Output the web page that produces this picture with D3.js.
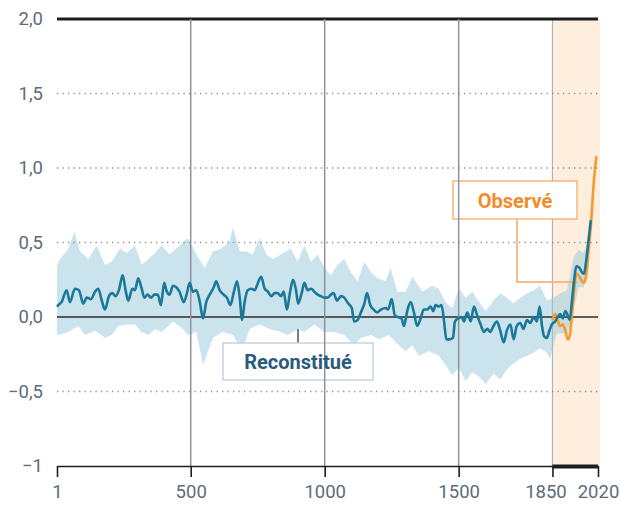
<!DOCTYPE html>
<html><head><meta charset="utf-8">
<script src="https://cdn.jsdelivr.net/npm/d3@7/dist/d3.min.js"></script>
<style>
html,body{margin:0;padding:0;background:#fff;}
svg{display:block;font-family:Roboto,"Open Sans",sans-serif;}
</style></head>
<body>
<svg id="chart" width="620" height="505"></svg>
<script>
// ---- data ----
const reconYears = [1,6,18,37,49,68,83,99,112,128,143,155,168,180,195,207,220,232,246,257,267,282,292,304,317,327,339,352,364,377,389,401,409,421,434,446,458,474,486,496,508,521,533,546,558,571,586,595,608,623,635,648,660,673,683,692,701,713,726,739,751,763,776,788,801,813,824,837,847,859,871,882,893,901,914,924,936,949,961,974,986,998,1011,1023,1033,1046,1061,1073,1088,1101,1110,1123,1135,1148,1158,1170,1183,1195,1210,1228,1237,1250,1262,1274,1287,1296,1308,1321,1333,1345,1358,1370,1383,1395,1405,1414,1426,1436,1445,1454,1466,1479,1486,1499,1511,1520,1532,1545,1557,1569,1582,1594,1607,1618,1630,1643,1655,1668,1680,1693,1705,1717,1730,1742,1755,1767,1780,1792,1802,1811,1819,1829,1839,1848,1860,1869,1879,1889,1898,1907,1914,1923,1931,1939,1951,1960,1968,1976,1985,1993];
const reconValues = [0.07,0.08,0.10,0.18,0.10,0.19,0.18,0.09,0.13,0.12,0.17,0.19,0.11,0.05,0.14,0.16,0.14,0.18,0.28,0.18,0.11,0.19,0.18,0.26,0.19,0.13,0.15,0.13,0.15,0.15,0.08,0.23,0.18,0.15,0.21,0.20,0.17,0.10,0.16,0.23,0.17,0.18,0.11,-0.01,0.10,0.15,0.20,0.24,0.18,0.15,0.13,0.08,0.16,0.24,0.13,-0.02,0.10,0.18,0.19,0.18,0.23,0.27,0.19,0.17,0.14,0.16,0.16,0.14,0.17,0.05,0.17,0.25,0.18,0.09,0.16,0.23,0.18,0.19,0.17,0.15,0.14,0.13,0.13,0.15,0.16,0.11,0.14,0.13,0.09,0.06,-0.03,-0.02,0.03,0.09,0.16,0.08,0.05,0.03,0.05,0.06,0.05,0.12,0.01,0.00,-0.01,-0.06,0.04,0.10,0.03,-0.06,-0.01,0.05,0.05,0.07,0.04,0.08,0.07,0.08,-0.02,-0.15,-0.15,-0.14,-0.03,-0.01,0.00,-0.03,0.03,-0.03,0.07,0.01,-0.05,-0.10,-0.08,-0.10,-0.06,-0.03,-0.09,-0.17,-0.09,-0.05,-0.15,-0.06,-0.04,-0.08,-0.02,-0.04,0.00,-0.03,0.07,-0.06,-0.13,-0.14,-0.09,-0.05,-0.03,0.00,0.02,-0.01,0.04,0.01,-0.02,0.11,0.25,0.34,0.33,0.30,0.29,0.38,0.52,0.65];

const bandUpperYears = [1,6,43,66,87,118,149,180,205,236,261,292,317,342,367,392,421,459,490,521,552,583,614,645,658,683,707,732,757,782,807,837,874,899,924,949,974,998,1023,1048,1073,1098,1123,1148,1173,1198,1228,1246,1271,1302,1327,1364,1401,1426,1451,1476,1501,1526,1551,1576,1601,1630,1655,1680,1705,1730,1755,1780,1804,1829,1854,1879,1904,1929,1948,1966,1979,1993];
const bandUpper = [0.33,0.37,0.46,0.57,0.44,0.39,0.48,0.35,0.37,0.46,0.43,0.48,0.35,0.39,0.43,0.48,0.42,0.48,0.53,0.42,0.33,0.44,0.46,0.51,0.60,0.44,0.44,0.42,0.53,0.42,0.39,0.42,0.46,0.37,0.48,0.37,0.42,0.33,0.28,0.35,0.39,0.30,0.24,0.37,0.30,0.26,0.24,0.33,0.17,0.17,0.27,0.17,0.21,0.19,0.10,0.06,0.19,0.13,0.17,0.10,0.04,0.11,0.16,0.13,0.09,0.13,0.16,0.18,0.21,0.11,0.13,0.16,0.18,0.40,0.45,0.43,0.49,0.66];
const bandLowerYears = [1,6,43,80,105,143,180,205,230,261,292,317,342,367,392,434,471,490,521,546,583,620,658,692,720,757,795,837,862,899,924,961,998,1036,1073,1110,1135,1173,1203,1240,1277,1302,1327,1352,1389,1426,1451,1476,1501,1526,1551,1576,1601,1630,1655,1680,1705,1730,1755,1780,1804,1829,1841,1866,1904,1923,1935,1948,1966,1985,1993];
const bandLower = [-0.12,-0.12,-0.10,-0.06,-0.12,-0.09,-0.14,-0.12,-0.06,-0.05,-0.05,-0.10,-0.12,-0.08,-0.10,-0.03,-0.08,-0.12,-0.10,-0.32,-0.14,-0.10,-0.12,-0.23,-0.08,-0.05,-0.08,-0.10,-0.12,-0.08,-0.10,-0.05,-0.10,-0.10,-0.12,-0.19,-0.14,-0.12,-0.15,-0.12,-0.19,-0.23,-0.19,-0.26,-0.23,-0.26,-0.32,-0.39,-0.34,-0.43,-0.37,-0.40,-0.45,-0.38,-0.42,-0.35,-0.31,-0.28,-0.26,-0.24,-0.21,-0.24,-0.28,-0.11,-0.11,-0.02,0.10,0.20,0.20,0.34,0.60];

const obsYears = [1850,1860,1869,1879,1889,1898,1907,1914,1923,1931,1939,1951,1960,1968,1976,1985,1994,2004,2014];
const obsValues = [-0.02,0.02,-0.02,-0.06,-0.05,-0.09,-0.15,-0.13,0.02,0.18,0.29,0.27,0.24,0.23,0.28,0.45,0.63,0.90,1.08];

const yTicks = [-1,-0.5,0,0.5,1,1.5,2];
const yTickLabels = ["\u22121","\u22120,5","0,0","0,5","1,0","1,5","2,0"];
const xTicks = [1,500,1000,1500,1850,2020];
const xTickLabels = ["1","500","1000","1500","1850","2020"];
const labelObserved = "Observé";
const labelRecon = "Reconstitué";

// ---- drawing ----
const svg = d3.select("#chart");
const x = d3.scaleLinear().domain([1,2020]).range([57,598]);
const y = d3.scaleLinear().domain([-1,2]).range([466,19]);

// industrial-era shading
svg.append("rect")
  .attr("x", x(1850)).attr("y", y(2))
  .attr("width", x(2020) - x(1850) + 2).attr("height", y(-1) - y(2))
  .attr("fill", "#fdeedd");

// 1850 line
svg.append("line")
  .attr("x1", x(1850)).attr("x2", x(1850))
  .attr("y1", y(2)).attr("y2", y(-1))
  .attr("stroke", "#b3b3b3").attr("stroke-width", 1.2);

// uncertainty band
const bandPts = bandUpperYears.map((d,i)=>[d, bandUpper[i]])
  .concat(bandLowerYears.map((d,i)=>[d, bandLower[i]]).reverse());
svg.append("path")
  .attr("d", d3.line().x(d=>x(d[0])).y(d=>y(d[1]))(bandPts) + "Z")
  .attr("fill", "rgb(150,200,220)").attr("fill-opacity", 0.5);

// dotted gridlines
svg.append("g").selectAll("line")
  .data(yTicks.filter(v => v === 0.5 || v === 1 || v === 1.5 || v === -0.5))
  .join("line")
  .attr("x1", x(1)).attr("x2", x(2020))
  .attr("y1", d=>y(d)).attr("y2", d=>y(d))
  .attr("stroke", "#8a8f96").attr("stroke-width", 1.3)
  .attr("stroke-dasharray", "1.3 4.2");

// zero line
svg.append("line")
  .attr("x1", x(1)).attr("x2", x(2020))
  .attr("y1", y(0)).attr("y2", y(0))
  .attr("stroke", "#2b2b2b").attr("stroke-width", 1.5);

// top line
svg.append("line")
  .attr("x1", x(1)).attr("x2", x(2020))
  .attr("y1", y(2)).attr("y2", y(2))
  .attr("stroke", "#1e1e1e").attr("stroke-width", 3);

// legend boxes
const obsBox = svg.append("g");
obsBox.append("line").attr("x1", 517).attr("x2", 517).attr("y1", 219).attr("y2", 282)
  .attr("stroke", "#f4a862").attr("stroke-width", 1.5);
obsBox.append("line").attr("x1", 516.25).attr("x2", 577).attr("y1", 282).attr("y2", 282)
  .attr("stroke", "#f4a862").attr("stroke-width", 1.5);
obsBox.append("rect").attr("x", 453).attr("y", 181).attr("width", 124).attr("height", 38)
  .attr("fill", "#fff").attr("stroke", "#f5b47c").attr("stroke-width", 1.5);

const recBox = svg.append("g");
recBox.append("line").attr("x1", 298).attr("x2", 298).attr("y1", 329).attr("y2", 343)
  .attr("stroke", "#3f5566").attr("stroke-width", 1.5);
recBox.append("rect").attr("x", 223).attr("y", 343).attr("width", 150).attr("height", 37)
  .attr("fill", "#fff").attr("stroke", "#c6d4de").attr("stroke-width", 1.5);

// vertical gridlines
svg.append("g").selectAll("line")
  .data(xTicks.filter(v => v === 500 || v === 1000 || v === 1500))
  .join("line")
  .attr("x1", d=>x(d)).attr("x2", d=>x(d))
  .attr("y1", y(2)).attr("y2", y(-1))
  .attr("stroke", "#8e939b").attr("stroke-width", 1.5);

// legend text
svg.append("text").attr("x", 515).attr("y", 207.5).attr("text-anchor", "middle")
  .attr("font-size", 20).attr("font-weight", 700).attr("fill", "#f08d2a")
  .text(labelObserved);
svg.append("text").attr("x", 298).attr("y", 369).attr("text-anchor", "middle")
  .attr("font-size", 20).attr("font-weight", 700).attr("fill", "#2c5a7b")
  .text(labelRecon);

// data lines
const line = d3.line().x(d=>x(d[0])).y(d=>y(d[1])).curve(d3.curveMonotoneX);
svg.append("path")
  .attr("d", line(obsYears.map((d,i)=>[d, obsValues[i]])))
  .attr("fill", "none").attr("stroke", "#f39a30").attr("stroke-width", 2.6)
  .attr("stroke-linejoin", "round");
svg.append("path")
  .attr("d", line(reconYears.map((d,i)=>[d, reconValues[i]])))
  .attr("fill", "none").attr("stroke", "#1b7898").attr("stroke-width", 2.6)
  .attr("stroke-linejoin", "round");

// x axis
const xAxis = svg.append("g").attr("transform", `translate(0,${y(-1)})`)
  .call(d3.axisBottom(x).tickValues(xTicks).tickFormat((d,i)=>xTickLabels[i])
    .tickSize(11).tickSizeOuter(0).tickPadding(8));
xAxis.select(".domain").attr("stroke", "#1e1e1e").attr("stroke-width", 1.6);
xAxis.selectAll(".tick line").attr("stroke", "#1e1e1e").attr("stroke-width", 1.6);
xAxis.selectAll(".tick text").attr("font-size", 18.5).attr("fill", "#5d6b7b")
  .attr("font-family", "Roboto,sans-serif")
  .attr("dx", d => d === 1850 ? -7 : 0);
svg.append("line")
  .attr("x1", x(1850)).attr("x2", x(2020))
  .attr("y1", y(-1) + 0.5).attr("y2", y(-1) + 0.5)
  .attr("stroke", "#1e1e1e").attr("stroke-width", 4);

// y axis labels
const yAxis = svg.append("g").attr("transform", `translate(${x(1)},0)`)
  .call(d3.axisLeft(y).tickValues(yTicks).tickFormat((d,i)=>yTickLabels[i])
    .tickSize(0).tickPadding(14));
yAxis.select(".domain").remove();
yAxis.selectAll(".tick text").attr("font-size", 18.5).attr("fill", "#5d6b7b")
  .attr("font-family", "Roboto,sans-serif");
</script>
</body></html>
